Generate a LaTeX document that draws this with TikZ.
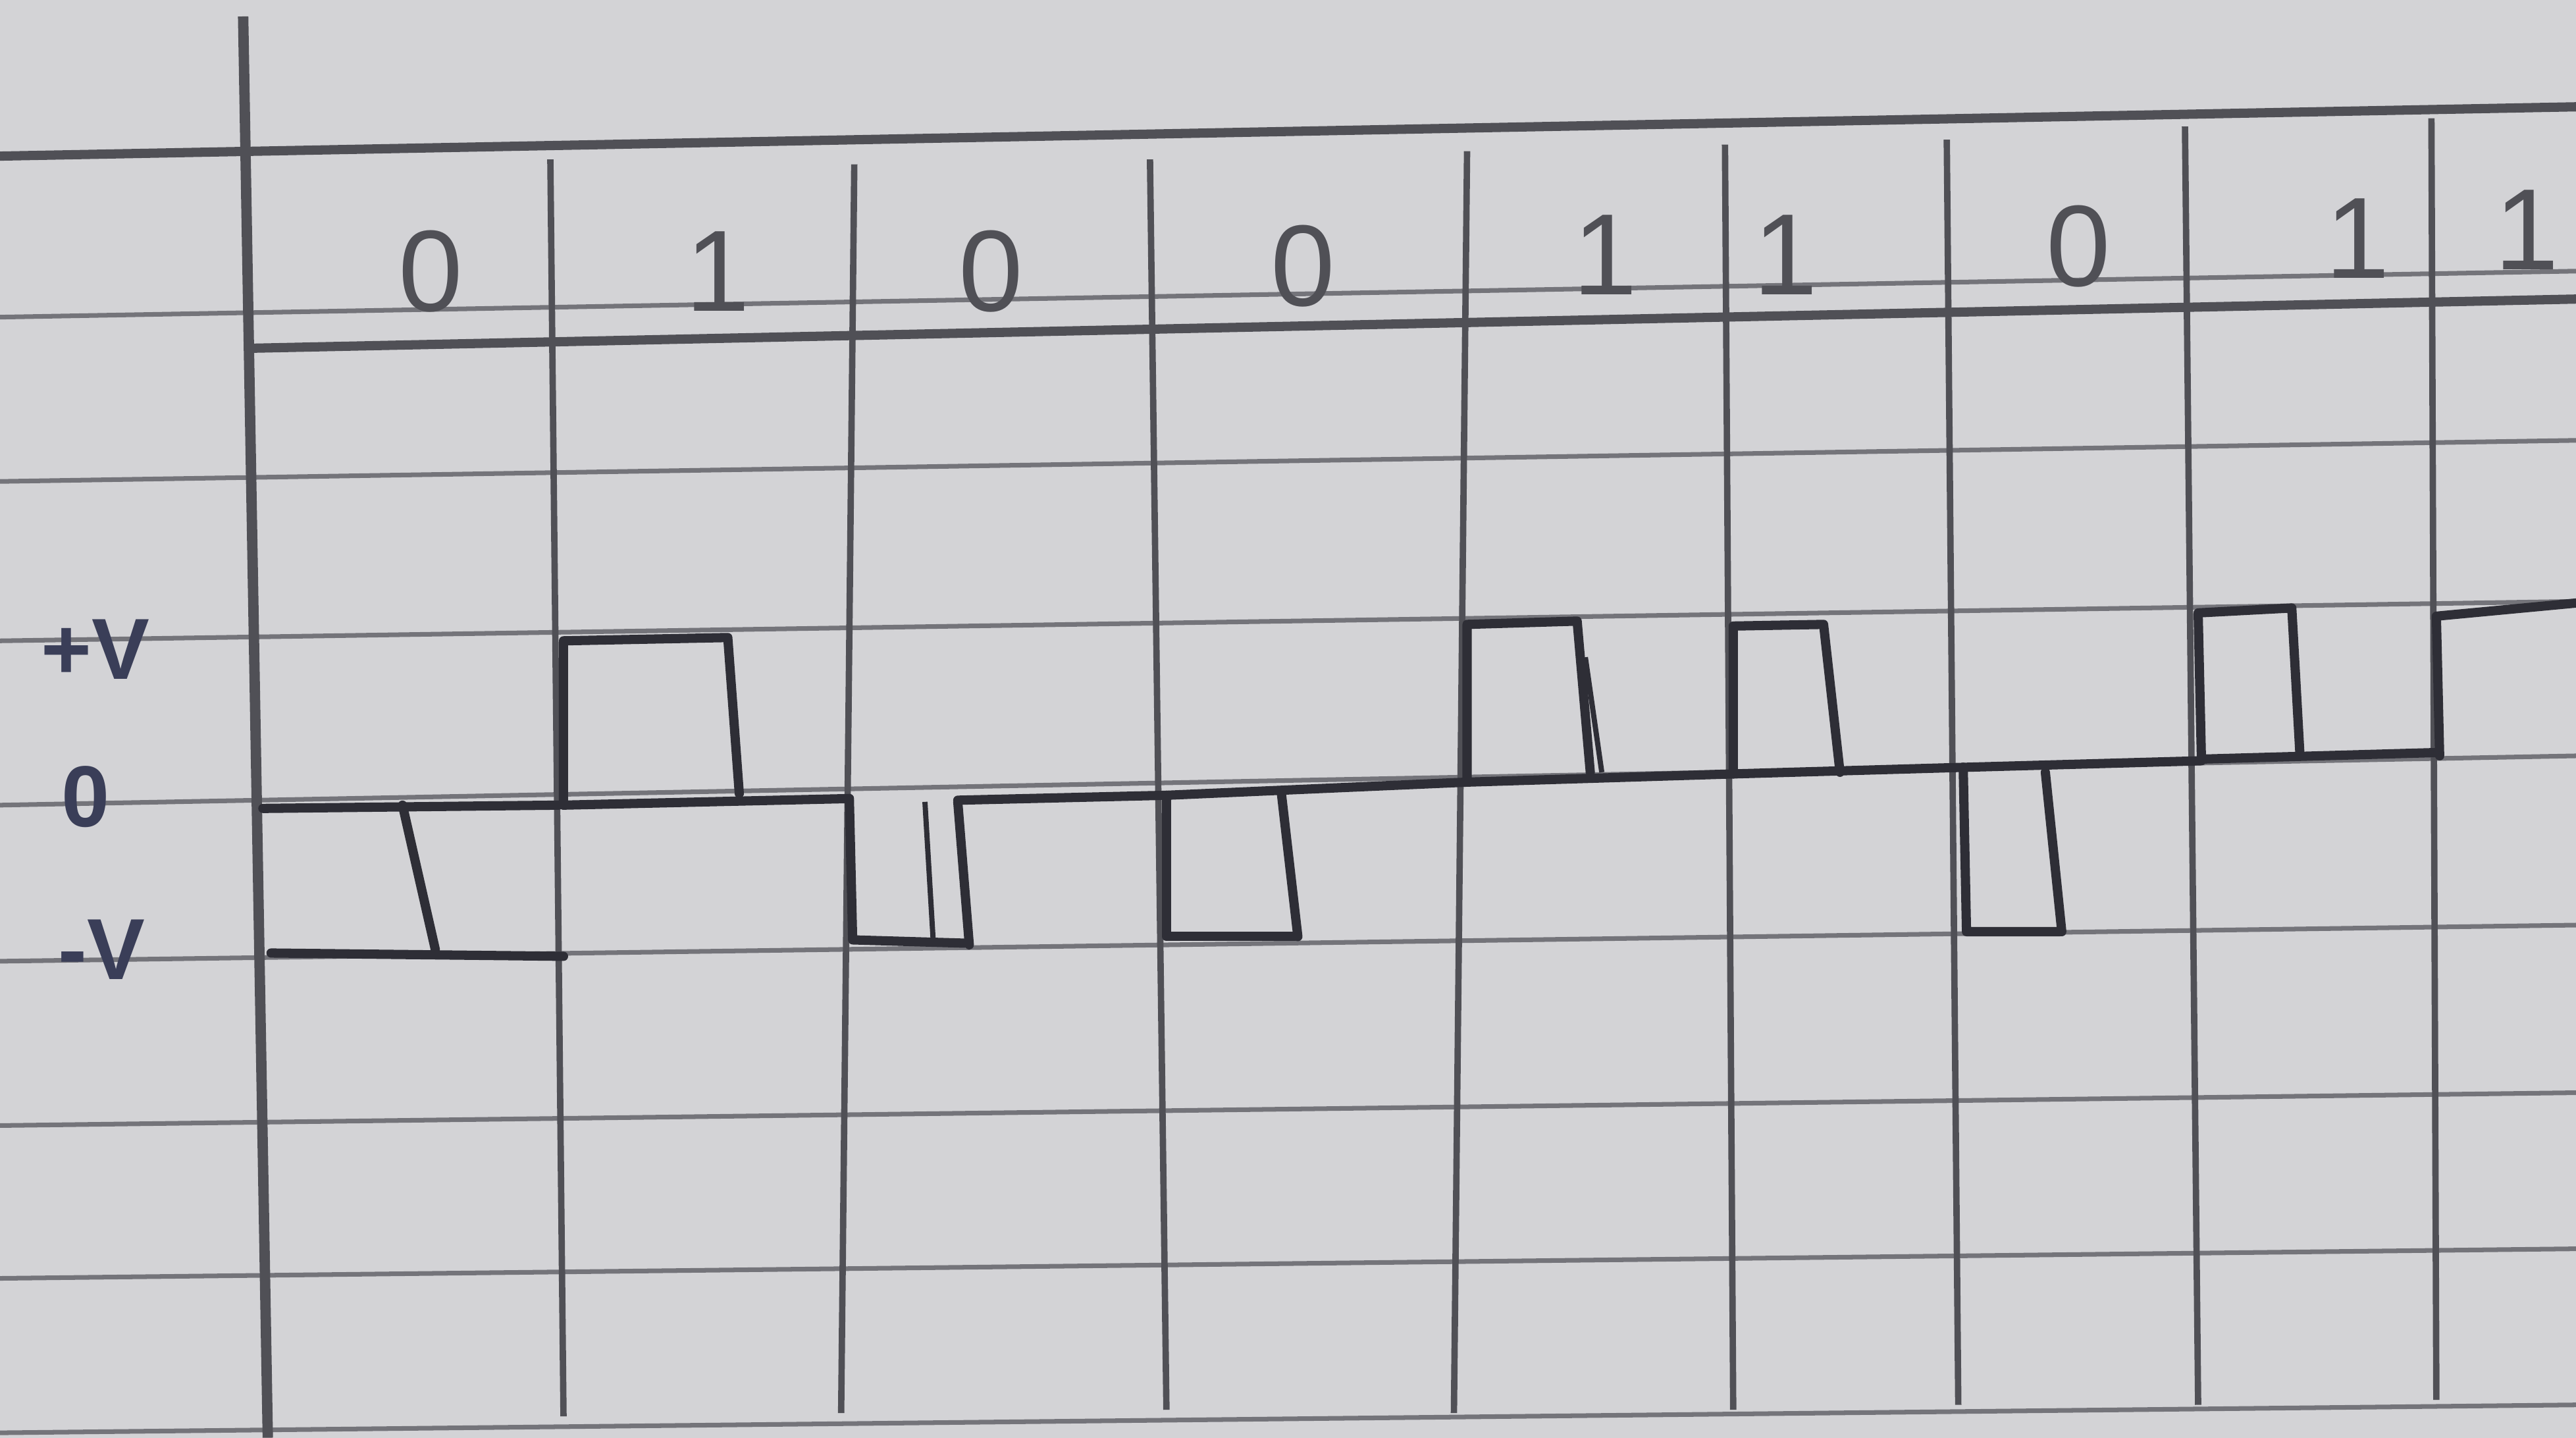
\documentclass[tikz,border=0pt]{standalone}
\usepackage{fontspec}
\setmainfont{Liberation Sans}
\definecolor{paper}{HTML}{D3D3D6}
\definecolor{rule}{HTML}{74747A}
\definecolor{pencil}{HTML}{505056}
\definecolor{ink}{HTML}{2E2E36}
\definecolor{blueink}{HTML}{3A3E58}
\begin{document}
\begin{tikzpicture}[x={(0.01cm,0)},y={(0,-0.01cm)},
  paperline/.style={draw=rule,line width=0.8pt},
  colline/.style={draw=pencil,line width=1.1pt},
  tableline/.style={draw=pencil,line width=1.6pt},
  wave/.style={draw=ink,line width=1.6pt,line join=round,line cap=round},
  bit/.style={text=pencil,font=\fontsize{20}{20}\selectfont,inner sep=0pt},
  lvl/.style={text=blueink,font=\fontsize{15}{15}\selectfont\bfseries,inner sep=0pt}]
\fill[paper] (0,0) rectangle (1568,875);
\useasboundingbox (0,0) rectangle (1568,875);
% paper ruling
\foreach \yl/\yr in {193/165, 293/268, 390/366, 490/460, 585/563, 685/665, 778/760, 872/855}
  \draw[paperline] (0,\yl) -- (1568,\yr);
% table top
\draw[tableline] (0,95) -- (1568,65);
% second header line
\draw[tableline] (150,212) -- (1568,182);
% axis and column lines
\draw[draw=pencil,line width=1.8pt] (148,10) -- (163,875);
\foreach \xt/\yt/\xb/\yb in {335/97/343/862, 520/100/512/860, 700/97/710/858, 893/92/885/860,
  1050/88/1055/858, 1185/85/1192/855, 1330/77/1338/855, 1480/72/1483/852}
  \draw[colline] (\xt,\yt) -- (\xb,\yb);
% bits
\node[bit] (b1) at (262,165) {0};
\node[bit] (b2) at (437,165) {1};
\node[bit] (b3) at (603,165) {0};
\node[bit] (b4) at (793,162) {0};
\node[bit] (b5) at (977,155) {1};
\node[bit] (b6) at (1087,155) {1};
\node[bit] (b7) at (1265,150) {0};
\node[bit] (b8) at (1435,145) {1};
\node[bit] (b9) at (1538,140) {1};
% level labels
\node[lvl] (lp) at (58,395) {+V};
\node[lvl] (lz) at (52,485) {0};
\node[lvl] (lm) at (62,578) {-V};
% waveform
% cell 1
\draw[wave] (160,492) -- (340,490);
\draw[wave] (245,490) -- (265,578);
\draw[wave] (165,580) -- (343,582);
% cell 2
\draw[wave] (343,490) -- (343,390) -- (443,388) -- (450,483);
\draw[wave] (343,490) -- (517,486);
% cell 3
\draw[wave] (517,486) -- (519,572) -- (587,574);
\draw[wave] (583,488) -- (590,575);
\draw[draw=ink,line width=0.9pt] (563,488) -- (568,572);
\draw[wave] (583,487) -- (710,484);
% cell 4
\draw[wave] (710,484) -- (710,570) -- (788,570);
\draw[wave] (780,483) -- (790,570);
\draw[wave] (710,484) -- (893,476);
% cell 5
\draw[wave] (893,476) -- (893,380) -- (960,378) -- (968,470);
\draw[draw=ink,line width=0.9pt] (965,400) -- (975,470);
\draw[wave] (893,476) -- (1055,471);
% cell 6
\draw[wave] (1055,471) -- (1055,381) -- (1110,380) -- (1120,470);
\draw[wave] (1055,471) -- (1195,467);
% cell 7
\draw[wave] (1195,467) -- (1197,567) -- (1254,567);
\draw[wave] (1245,470) -- (1255,567);
\draw[wave] (1195,467) -- (1340,463);
% cell 8
\draw[wave] (1340,462) -- (1338,373) -- (1395,370) -- (1400,460);
\draw[wave] (1340,462) -- (1483,458);
% cell 9
\draw[wave] (1485,460) -- (1483,375) -- (1568,367);
\end{tikzpicture}
\end{document}
